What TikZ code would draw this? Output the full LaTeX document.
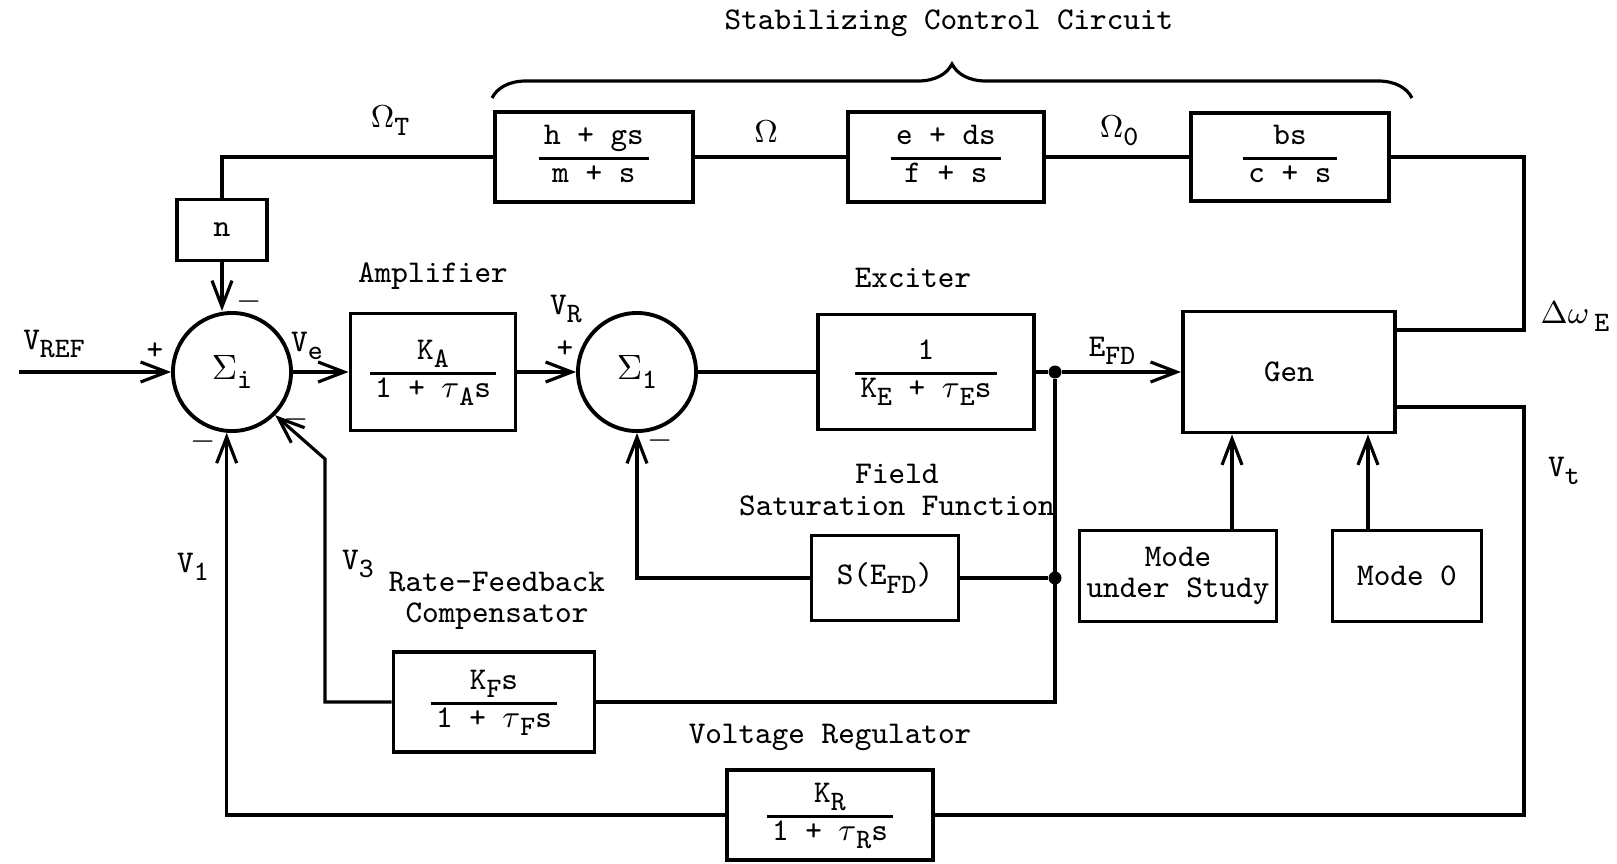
\documentclass[tikz,border=0pt]{standalone}
\usetikzlibrary{arrows.meta,decorations.pathreplacing}
\setlength{\arrayrulewidth}{0.8pt}
\newcommand{\bfr}[2]{\begin{tabular}{@{\,}c@{\,}}#1\\[1pt]\hline #2\end{tabular}}
\newcommand{\lo}[1]{\raisebox{-0.6ex}{\fontsize{8}{8}\selectfont\ttfamily #1}}
\tikzset{
  blk/.style={draw, line width=1.1pt, font=\fontsize{9}{9}\selectfont\ttfamily, align=center, inner sep=1pt},
  sumc/.style={draw, circle, line width=1.1pt, minimum size=1.18cm, inner sep=0pt, font=\fontsize{10}{10}\selectfont\ttfamily},
  lbl/.style={font=\fontsize{9}{9}\selectfont\ttfamily, inner sep=1pt},
  sig/.style={line width=0.9pt, -{Straight Barb[length=2.6mm,width=2mm]}},
  wire/.style={line width=0.9pt},
  dot/.style={circle, fill, inner sep=0pt, minimum size=0.13cm}
}
\begin{document}
\begin{tikzpicture}[x=0.01cm, y=-0.01cm]
  \useasboundingbox (0,0) rectangle (1617,863);

  % stabilizing control circuit
  \node[lbl] (title) at (949,23) {Stabilizing Control Circuit};
  \draw[wire, decorate, decoration={brace, amplitude=0.34cm}] (492,98) -- (1412,98);
  \node[blk, minimum width=1.98cm, minimum height=0.9cm] (hgs) at (594,157) {\bfr{h + gs}{m + s}};
  \node[blk, minimum width=1.96cm, minimum height=0.9cm] (eds) at (946,157) {\bfr{e + ds}{f + s}};
  \node[blk, minimum width=1.98cm, minimum height=0.88cm] (bsc) at (1290,157) {\bfr{bs}{c + s}};
  \node[blk, minimum width=0.9cm, minimum height=0.61cm] (nb) at (222,230) {n};

  % main path
  \node[sumc] (si) at (232,372) {$\Sigma$\lo{i}};
  \node[blk, minimum width=1.65cm, minimum height=1.17cm] (amp) at (433,372) {\bfr{K\lo{A}}{1 + $\tau$\lo{A}s}};
  \node[sumc] (sone) at (637,372) {$\Sigma$\lo{1}};
  \node[blk, minimum width=2.16cm, minimum height=1.15cm] (exc) at (926,372) {\bfr{1}{K\lo{E} + $\tau$\lo{E}s}};
  \node[blk, minimum width=2.12cm, minimum height=1.21cm] (gen) at (1289,372) {Gen};

  % feedback blocks
  \node[blk, minimum width=1.47cm, minimum height=0.85cm] (sat) at (885,578) {S(E\lo{FD})};
  \node[blk, minimum width=2.01cm, minimum height=1.0cm] (kf) at (494,702) {\bfr{K\lo{F}s}{1 + $\tau$\lo{F}s}};
  \node[blk, minimum width=2.06cm, minimum height=0.9cm] (kr) at (830,815) {\bfr{K\lo{R}}{1 + $\tau$\lo{R}s}};
  \node[blk, minimum width=1.97cm, minimum height=0.91cm] (mus) at (1178,576) {Mode\\under Study};
  \node[blk, minimum width=1.49cm, minimum height=0.91cm] (mz) at (1407,576) {Mode 0};

  \coordinate (vin) at (19,372);
  \node[dot] (ja) at (1055,372) {};
  \node[dot] (jb) at (1055,578) {};
  \coordinate (dwE) at (1524,330);
  \coordinate (vt) at (1524,407);
  \coordinate (vthree) at (325,459);

  % connectors
  \draw[sig] (vin) -- (si);
  \draw[sig] (si) -- (amp);
  \draw[sig] (amp) -- (sone);
  \draw[wire] (sone) -- (exc);
  \draw[wire] (exc) -- (ja);
  \draw[sig] (ja) -- (gen);
  \draw[wire] (hgs) -- (eds);
  \draw[wire] (eds) -- (bsc);
  \draw[wire] (bsc) -| (dwE) -- (dwE -| gen.east);
  \draw[wire] (hgs.west) -| (nb.north);
  \draw[sig] (nb.south) -- (nb.south |- si.north);
  \draw[wire] (vt -| gen.east) -- (vt) |- (kr.east);
  \draw[sig] (kr.west) -| (si.265);
  \draw[wire] (ja) -- (ja |- kf.east) -- (kf.east);
  \draw[wire] (jb) -- (sat.east);
  \draw[sig] (sat.west) -| (sone.south);
  \draw[sig] (kf.west) -| (vthree) -- (si.-45);
  \draw[sig] ([xshift=0.54cm]mus.north) -- ([xshift=0.54cm]mus.north |- gen.south);
  \draw[sig] ([xshift=-0.39cm]mz.north) -- ([xshift=-0.39cm]mz.north |- gen.south);

  % labels
  \node[lbl] (lot) at (390,121) {$\Omega$\lo{T}};
  \node[lbl] (lo) at (766,132) {$\Omega$};
  \node[lbl] (loz) at (1119,131) {$\Omega$\lo{0}};
  \node[lbl] (ldw) at (1575,317) {$\Delta\omega$\,\lo{E}};
  \node[lbl] (lvref) at (54,344) {V\lo{REF}};
  \node[lbl] (pa) at (155,351) {+};
  \node[lbl] (ma) at (249,302) {$-$};
  \node[lbl] (lve) at (307,346) {V\lo{e}};
  \node[lbl] (lamp) at (433,276) {Amplifier};
  \node[lbl] (lvr) at (566,309) {V\lo{R}};
  \node[lbl] (pb) at (565,349) {+};
  \node[lbl] (lexc) at (913,278) {Exciter};
  \node[lbl] (lefd) at (1112,351) {E\lo{FD}};
  \node[lbl] (mb) at (660,441) {$-$};
  \node[lbl] (mc) at (203,442) {$-$};
  \node[lbl] (md) at (296,420) {$-$};
  \node[lbl, align=center] (lsat) at (897,490) {Field\\Saturation Function};
  \node[lbl] (lvone) at (193,567) {V\lo{1}};
  \node[lbl] (lvth) at (358,564) {V\lo{3}};
  \node[lbl, align=center] (lrfc) at (497,601) {Rate-Feedback\\Compensator};
  \node[lbl] (lvreg) at (830,737) {Voltage Regulator};
  \node[lbl] (lvt) at (1564,471) {V\lo{t}};
\end{tikzpicture}
\end{document}
